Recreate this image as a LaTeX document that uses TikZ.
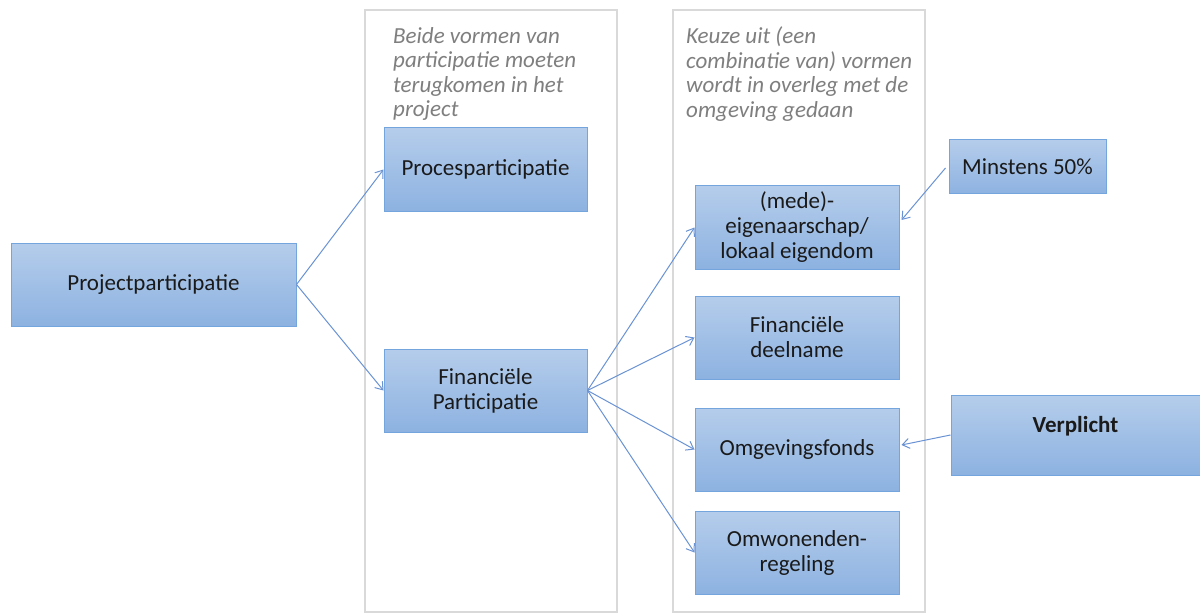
\documentclass[tikz,border=0pt]{standalone}
\usepackage{fontspec}
\setmainfont{Carlito}
\usetikzlibrary{arrows.meta,calc}
\definecolor{boxtop}{HTML}{B5CDEB}
\definecolor{boxbot}{HTML}{8DB2E1}
\definecolor{boxline}{HTML}{74A5DC}
\definecolor{arrowc}{HTML}{6A93D4}
\definecolor{panelc}{HTML}{D9D9D9}
\definecolor{notec}{HTML}{7F7F7F}
\definecolor{txt}{HTML}{1A1A1A}
\tikzset{
  bx/.style={draw=boxline, line width=1pt, top color=boxtop, bottom color=boxbot,
    align=center, text=txt, font=\fontsize{23}{25}\selectfont, inner sep=0pt},
  panel/.style={draw=panelc, line width=1.2pt},
  note/.style={font=\fontsize{23}{24.5}\selectfont\itshape, text=notec, align=left, anchor=north west, inner sep=0pt},
  conn/.style={draw=arrowc, line width=1pt, -{Straight Barb[length=7pt,width=10pt]}},
}
\begin{document}
\begin{tikzpicture}[x=1pt,y=-1pt]
\useasboundingbox (0,0) rectangle (1200,615);
\fill[white] (0,0) rectangle (1200,615);
% panels
\draw[panel] (365,10) rectangle (617,612);
\draw[panel] (673,10) rectangle (925,612);
\node[note] (n1) at (393,27) {Beide vormen van\\participatie moeten\\terugkomen in het\\project};
\node[note] (n2) at (686,27) {Keuze uit (een\\combinatie van) vormen\\wordt in overleg met de\\omgeving gedaan};
% boxes
\node[bx, minimum width=285pt, minimum height=83pt] (pp) at (153.5,284.5) {Projectparticipatie};
\node[bx, minimum width=203pt, minimum height=83pt] (proc) at (485.5,169.5) {Procesparticipatie};
\node[bx, minimum width=203pt, minimum height=83pt] (fin) at (485.5,390.5) {Financiële\\Participatie};
\node[bx, minimum width=204pt, minimum height=83pt] (mede) at (797,227.5) {(mede)-\\eigenaarschap/\\lokaal eigendom};
\node[bx, minimum width=204pt, minimum height=83pt] (deel) at (797,337.5) {Financiële\\deelname};
\node[bx, minimum width=204pt, minimum height=83pt] (fonds) at (797,449.5) {Omgevingsfonds};
\node[bx, minimum width=204pt, minimum height=83pt] (omw) at (797,552.5) {Omwonenden-\\regeling};
\node[bx, minimum width=157pt, minimum height=54pt] (min) at (1027.5,167) {Minstens 50\%};
\node[bx, minimum width=249pt, minimum height=80pt, text depth=21pt] (verp) at (1075.5,435) {\bfseries Verplicht};
% connectors
\draw[conn] (pp.east) -- (proc.west);
\draw[conn] (pp.east) -- (fin.west);
\draw[conn] (fin.east) -- (mede.west);
\draw[conn] (fin.east) -- (deel.west);
\draw[conn] (fin.east) -- (fonds.west);
\draw[conn] (fin.east) -- (omw.west);
\coordinate (minstart) at ($(min.west)+(-3,1)$);
\coordinate (minend) at ($(mede.east)+(2,-7.5)$);
\draw[conn] (minstart) -- (minend);
\draw[conn] (verp.west) -- ([yshift=4.5pt,xshift=2pt]fonds.east);
\end{tikzpicture}
\end{document}
